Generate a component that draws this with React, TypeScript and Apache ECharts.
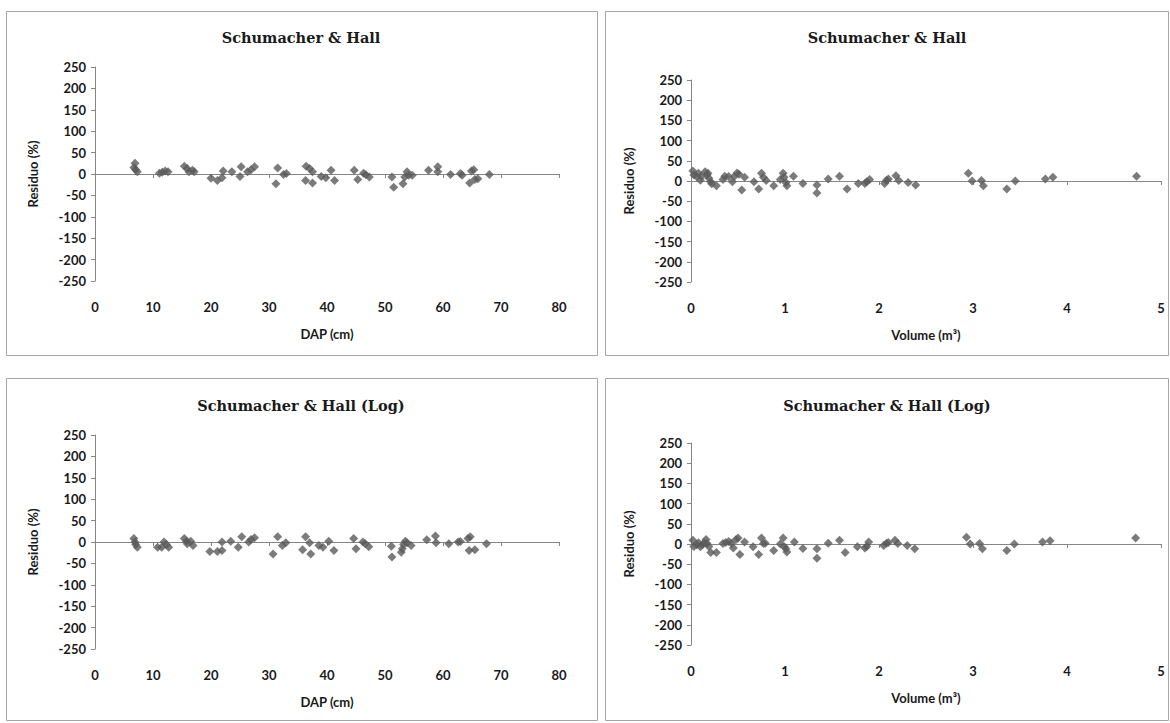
import React, { useEffect, useRef } from "react";
import * as echarts from "echarts";

// Top-left: Schumacher & Hall, residuals vs DAP
const dap1 = [6.9, 6.7, 7.0, 7.3, 11.1, 11.6, 12.1, 12.6, 15.4, 15.9, 16.2, 17.1, 16.8, 20.0, 21.1, 21.9, 22.1, 23.6, 25.2, 25.0, 26.3, 26.9, 27.5, 31.2, 31.5, 32.5, 33.0, 36.4, 37.0, 36.3, 37.5, 37.5, 39.0, 39.8, 40.7, 41.3, 44.7, 45.3, 46.3, 46.7, 47.3, 51.2, 51.5, 53.1, 53.4, 53.8, 54.1, 54.7, 57.5, 59.1, 59.1, 61.3, 63.0, 63.3, 64.6, 64.9, 65.3, 65.5, 66.0, 68.0];
const res1 = [25, 15, 10, 5, 2, 4, 7, 5, 18, 13, 5, 5, 9, -10, -15, -9, 7, 5, 17, -6, 5, 10, 17, -23, 14, -1, 1, 18, 13, -15, 5, -21, -6, -9, 9, -15, 9, -13, 2, -2, -7, -7, -31, -23, -7, 5, -3, -3, 9, 17, 5, -1, 1, -3, -21, 7, 10, -13, -11, -1];

// Top-right: Schumacher & Hall, residuals vs Volume
const vol2 = [0.02, 0.03, 0.06, 0.08, 0.10, 0.11, 0.15, 0.17, 0.18, 0.19, 0.21, 0.22, 0.27, 0.34, 0.36, 0.40, 0.44, 0.46, 0.49, 0.51, 0.54, 0.57, 0.67, 0.72, 0.75, 0.77, 0.80, 0.88, 0.95, 0.98, 0.99, 1.01, 1.02, 1.09, 1.19, 1.34, 1.34, 1.46, 1.58, 1.66, 1.78, 1.85, 1.87, 1.90, 2.06, 2.08, 2.10, 2.18, 2.21, 2.31, 2.39, 2.95, 2.99, 3.09, 3.11, 3.36, 3.45, 3.77, 3.85, 4.74];
const res2 = [25, 15, 11, 19, 2, 11, 23, 15, 19, 7, -2, -7, -12, 4, 12, 11, -2, 11, 20, 17, -22, 9, -2, -20, 19, 9, 1, -12, 4, 19, 9, -4, -12, 12, -6, -10, -30, 5, 12, -20, -6, -6, -2, 4, -6, 2, 5, 13, 1, -4, -10, 19, 0, 1, -12, -20, 0, 5, 9, 12];

// Bottom-left: Schumacher & Hall (Log), residuals vs DAP
const dap3 = [6.7, 6.9, 7.0, 7.3, 10.8, 11.5, 11.9, 12.3, 12.7, 15.4, 15.8, 15.9, 16.5, 16.9, 19.8, 21.1, 21.9, 21.9, 23.4, 24.7, 25.3, 26.5, 26.9, 27.5, 30.7, 31.5, 32.3, 32.9, 36.3, 35.8, 37.0, 37.2, 38.6, 39.3, 40.3, 41.2, 44.6, 45.0, 46.2, 46.6, 47.2, 51.1, 51.2, 52.8, 53.0, 53.2, 53.5, 53.8, 54.5, 57.2, 58.7, 58.8, 61.0, 62.6, 63.0, 64.3, 64.7, 64.5, 65.5, 67.5];
const res3 = [8, 0, -6, -12, -12, -12, 0, -6, -12, 8, 2, -4, 2, -8, -22, -22, -20, 0, 2, -12, 12, 0, 6, 10, -28, 12, -8, -2, 12, -18, -2, -28, -8, -12, 2, -20, 8, -16, 0, -4, -11, -10, -35, -24, -16, -6, 2, -2, -8, 5, 14, -2, -4, 0, 1, 8, 12, -20, -18, -4];

// Bottom-right: Schumacher & Hall (Log), residuals vs Volume
const vol4 = [0.02, 0.03, 0.06, 0.08, 0.10, 0.12, 0.14, 0.16, 0.17, 0.19, 0.21, 0.27, 0.34, 0.37, 0.40, 0.43, 0.45, 0.48, 0.50, 0.52, 0.57, 0.66, 0.72, 0.75, 0.77, 0.79, 0.88, 0.95, 0.98, 0.99, 1.01, 1.02, 1.10, 1.19, 1.34, 1.34, 1.46, 1.58, 1.64, 1.77, 1.85, 1.87, 1.89, 2.05, 2.08, 2.10, 2.17, 2.20, 2.30, 2.38, 2.93, 2.97, 3.07, 3.10, 3.36, 3.44, 3.74, 3.82, 4.73];
const res4 = [9, -6, -2, 3, -7, -2, 3, 11, 1, -6, -21, -21, 1, 4, 6, 2, -10, 11, 15, -26, 5, -7, -26, 15, 1, 2, -16, 0, 15, -6, -12, -20, 5, -11, -12, -35, 2, 9, -21, -7, -10, -6, 5, -4, 2, 4, 9, 1, -4, -12, 17, 0, 1, -12, -16, 0, 5, 8, 15];

const titles = ["Schumacher & Hall", "Schumacher & Hall", "Schumacher & Hall (Log)", "Schumacher & Hall (Log)"];
const xNames = ["DAP (cm)", "Volume (m³)", "DAP (cm)", "Volume (m³)"];
const yName = "Residuo (%)";

const FONT = "Lato";
const TXT = "#1a1a1a";
const AX = "#868686";
const MARK = "#5a5a5a";

export default function App() {
  const ref = useRef<HTMLDivElement>(null);
  useEffect(() => {
    if (!ref.current) return;
    const chart = echarts.init(ref.current, undefined, { renderer: "svg" });

    const panels = [
      { x: dap1, y: res1, min: 0, max: 80, interval: 10, grid: { left: 95, top: 67, width: 464, height: 214 } },
      { x: vol2, y: res2, min: 0, max: 5, interval: 1, grid: { left: 691, top: 80, width: 470, height: 202 } },
      { x: dap3, y: res3, min: 0, max: 80, interval: 10, grid: { left: 95, top: 435, width: 464, height: 214 } },
      { x: vol4, y: res4, min: 0, max: 5, interval: 1, grid: { left: 691, top: 443, width: 470, height: 202 } },
    ];

    const grids: any[] = [];
    const xAxes: any[] = [];
    const yAxes: any[] = [];
    const series: any[] = [];

    panels.forEach((p, i) => {
      grids.push({ ...p.grid, containLabel: false });
      xAxes.push({
        type: "value",
        gridIndex: i,
        position: "bottom",
        min: p.min,
        max: p.max,
        interval: p.interval,
        axisLine: { show: false, onZero: false },
        axisTick: { show: false },
        splitLine: { show: false },
        axisLabel: { margin: 19, fontFamily: FONT, fontWeight: "bold", fontSize: 13, color: TXT },
        name: xNames[i],
        nameLocation: "middle",
        nameGap: 46,
        nameTextStyle: { fontFamily: FONT, fontWeight: "bold", fontSize: 13, color: TXT },
      });
      xAxes.push({
        type: "value",
        gridIndex: i,
        position: "bottom",
        min: p.min,
        max: p.max,
        interval: p.interval,
        axisLine: { show: true, onZero: true, lineStyle: { color: AX, width: 1 } },
        axisTick: { show: true, length: 4, lineStyle: { color: AX } },
        splitLine: { show: false },
        axisLabel: { show: false },
      });
      yAxes.push({
        type: "value",
        gridIndex: i,
        min: -250,
        max: 250,
        interval: 50,
        axisLine: { show: true, onZero: false, lineStyle: { color: AX, width: 1 } },
        axisTick: { show: true, length: 4, lineStyle: { color: AX } },
        splitLine: { show: false },
        axisLabel: { margin: 9, fontFamily: FONT, fontWeight: "bold", fontSize: 13, color: TXT },
        name: yName,
        nameLocation: "middle",
        nameGap: 56,
        nameTextStyle: { fontFamily: FONT, fontWeight: "bold", fontSize: 13, color: TXT },
      });
      series.push({
        type: "scatter",
        xAxisIndex: i * 2,
        yAxisIndex: i,
        symbol: "diamond",
        symbolSize: 9,
        itemStyle: { color: MARK },
        data: p.x.map((v, k) => [v, p.y[k]]),
      });
    });

    const borders = [
      { x: 6.5, y: 11.5, w: 591, h: 344 },
      { x: 605.5, y: 11.5, w: 563, h: 344 },
      { x: 6.5, y: 378.5, w: 591, h: 342 },
      { x: 605.5, y: 378.5, w: 563, h: 342 },
    ];
    const titlePos = [
      { x: 301, y: 37 },
      { x: 887, y: 37 },
      { x: 301, y: 405 },
      { x: 887, y: 405 },
    ];

    const graphic: any[] = [];
    borders.forEach((b) => {
      graphic.push({
        type: "rect",
        shape: { x: b.x, y: b.y, width: b.w, height: b.h },
        style: { fill: "none", stroke: "#a6a6a6", lineWidth: 1 },
        silent: true,
        z: -1,
      });
    });
    titlePos.forEach((t, i) => {
      graphic.push({
        type: "text",
        x: t.x,
        y: t.y,
        style: {
          text: titles[i],
          fill: TXT,
          font: "bold 14.5px 'DejaVu Serif'",
          textAlign: "center",
          textVerticalAlign: "middle",
        },
      });
    });

    chart.setOption({
      animation: false,
      backgroundColor: "#ffffff",
      grid: grids,
      xAxis: xAxes,
      yAxis: yAxes,
      series,
      graphic,
    });
    return () => chart.dispose();
  }, []);

  return (
    <div
      ref={ref}
      style={{ position: "fixed", left: 0, top: 0, width: 1170, height: 723 }}
    />
  );
}
